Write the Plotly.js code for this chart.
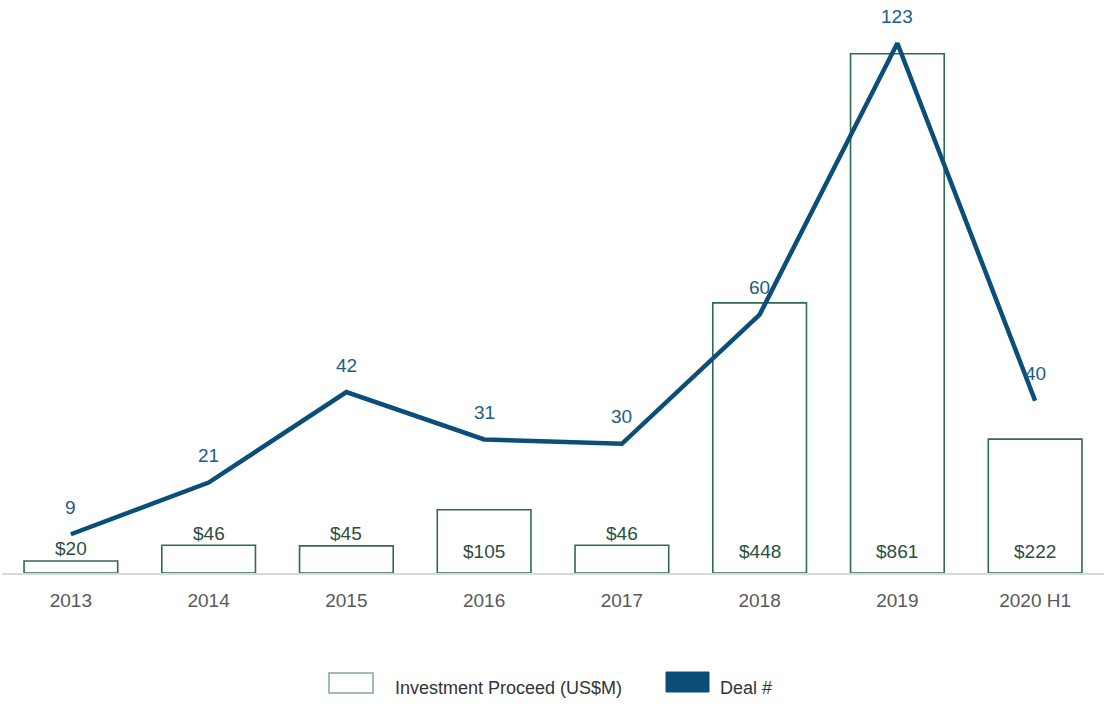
<!DOCTYPE html>
<html>
<head>
<meta charset="utf-8">
<script src="https://cdn.plot.ly/plotly-3.0.1.min.js"></script>
<style>html,body{margin:0;padding:0;background:#fff}#chart{width:1104px;height:704px}</style>
</head>
<body>
<div id="chart"></div>
<script>
const years = ['2013','2014','2015','2016','2017','2018','2019','2020 H1'];
const proceeds = [20, 46, 45, 105, 46, 448, 861, 222];
const proceedLabels = ['$20','$46','$45','$105','$46','$448','$861','$222'];
const deals = [9, 21, 42, 31, 30, 60, 123, 40];

const FONT = 'Liberation Sans, Arial, sans-serif';
const lineColor = '#0b4f78';
const barLine = '#2f6b50';

const barTrace = {
  type: 'bar', x: years, y: proceeds, name: 'Investment Proceed (US$M)',
  width: 0.68,
  marker: {color: '#ffffff', line: {color: barLine, width: 1.6}},
  showlegend: false, hoverinfo: 'skip'
};
const lineTrace = {
  type: 'scatter', mode: 'lines', x: years, y: deals, yaxis: 'y2', name: 'Deal #',
  line: {color: lineColor, width: 4.5},
  showlegend: false, hoverinfo: 'skip', cliponaxis: false
};

const annotations = [];
// deal count labels (x given as category index)
deals.forEach((d, i) => annotations.push({
  x: i, y: d, xref: 'x', yref: 'y2', text: String(d),
  showarrow: false, yshift: 27,
  font: {family: FONT, size: 19, color: '#1d5c88'}
}));
// proceed labels: above small bars, inside near base for larger ones
proceeds.forEach((v, i) => {
  const small = v < 60;
  annotations.push({
    x: i, y: small ? v : 0, xref: 'x', yref: 'y', text: proceedLabels[i],
    showarrow: false, yanchor: 'middle', yshift: small ? 12 : 22,
    font: {family: FONT, size: 19, color: '#2a4f40'}
  });
});

const px = v => (v - 2) / 1102;
const py = v => (573 - v) / 553;
annotations.push(
  {xref: 'paper', yref: 'paper', x: px(393), y: py(688), xanchor: 'left', yanchor: 'middle',
   text: 'Investment Proceed (US$M)', showarrow: false,
   font: {family: FONT, size: 18, color: '#333333'}},
  {xref: 'paper', yref: 'paper', x: px(718), y: py(688), xanchor: 'left', yanchor: 'middle',
   text: 'Deal #', showarrow: false,
   font: {family: FONT, size: 18, color: '#333333'}}
);

const shapes = [
  {type: 'rect', xref: 'paper', yref: 'paper', x0: px(329), x1: px(373), y0: py(693), y1: py(673),
   line: {color: '#7fa898', width: 1.5}, fillcolor: '#ffffff'},
  {type: 'rect', xref: 'paper', yref: 'paper', x0: px(666), x1: px(709), y0: py(692), y1: py(672),
   line: {color: lineColor, width: 1}, fillcolor: lineColor}
];

const layout = {
  width: 1104, height: 704,
  margin: {l: 2, r: 0, t: 20, b: 131},
  paper_bgcolor: '#ffffff', plot_bgcolor: '#ffffff',
  barmode: 'overlay',
  showlegend: false,
  font: {family: FONT},
  xaxis: {
    type: 'category', range: [-0.5, 7.5],
    showline: true, linecolor: '#d9d9d9', linewidth: 1.5,
    showgrid: false, zeroline: false, ticks: '',
    ticklabelstandoff: 10,
    tickfont: {family: FONT, size: 19, color: '#595959'}
  },
  yaxis: {range: [0, 917], visible: false, showgrid: false, zeroline: false},
  yaxis2: {range: [0, 128.4], overlaying: 'y', side: 'right', visible: false, showgrid: false, zeroline: false},
  annotations: annotations,
  shapes: shapes
};

Plotly.newPlot('chart', [barTrace, lineTrace], layout, {displayModeBar: false, staticPlot: true});
</script>
</body>
</html>
